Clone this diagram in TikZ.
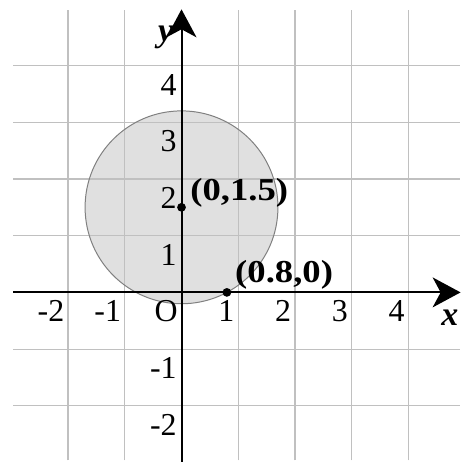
\documentclass[tikz,border=0pt]{standalone}
\usepackage{fontspec}
\setmainfont{Liberation Serif}
\newfontfamily\widefont[FakeStretch=1.15]{Liberation Serif}
\usepackage{tikz}
\usetikzlibrary{arrows.meta, positioning}
\usepackage{xcolor}
\definecolor{gridgray}{RGB}{192,192,192}
\definecolor{discfill}{RGB}{224,224,224}
\definecolor{rimgray}{RGB}{128,128,128}

\tikzset{
  gridline/.style={gridgray, line width=0.6pt},
  axis/.style={black, line width=1pt,
               -{Stealth[length=14pt, width=15pt, inset=4pt]}},
  dot/.style={circle, fill=black, inner sep=0pt, minimum size=4.4pt},
  ticklab/.style={anchor=base east, inner sep=0pt,
                  font=\fontsize{16}{16}\selectfont},
  ptlab/.style={anchor=west, inner sep=0pt,
                font=\widefont\bfseries\fontsize{16}{16}\selectfont}
}

\begin{document}
\begin{tikzpicture}
  \useasboundingbox (-3.2,-2.99) rectangle (4.91,5.155);
  % disc
  \fill[discfill] (0,1.5) circle (1.7);
  % grid
  \foreach \x in {-2,...,4}
    \draw[gridline] (\x,-2.96) -- (\x,4.98);
  \foreach \y in {-2,-1,1,2,3,4}
    \draw[gridline] (-2.97,\y) -- (4.91,\y);
  \draw[rimgray, line width=0.5pt] (0,1.5) circle (1.7);
  % axes
  \coordinate (xl) at (-2.97,0);
  \coordinate (xr) at (4.92,0);
  \coordinate (yb) at (0,-3.0);
  \coordinate (yt) at (0,4.99);
  \draw[axis] (xl) -- (xr);
  \draw[axis] (yb) -- (yt);
  \node[font=\fontsize{17}{17}\selectfont\bfseries\itshape] (xlab) at (4.73,-0.45) {x};
  \node[font=\fontsize{17}{17}\selectfont\bfseries\itshape] (ylab) at (-0.28,4.5) {y};
  % tick labels
  \foreach \x/\lab in {-2/-2, -1/-1, 0/O, 1/1, 2/2, 3/3, 4/4}
    \node[ticklab] (tx\x) at (\x-0.06,-0.52) {\lab};
  \foreach \y in {-2,-1,1,2,3,4}
    \node[ticklab] (ty\y) at (-0.08,\y-0.52) {\y};
  % points
  \node[dot] (ctr) at (0,1.5) {};
  \node[dot] (tch) at (0.8,0) {};
  \node[ptlab] (ctrlab) at (0.15,1.75) {(0,1.5)};
  \node[ptlab] (tchlab) at (0.94,0.31) {(0.8,0)};
\end{tikzpicture}
\end{document}
